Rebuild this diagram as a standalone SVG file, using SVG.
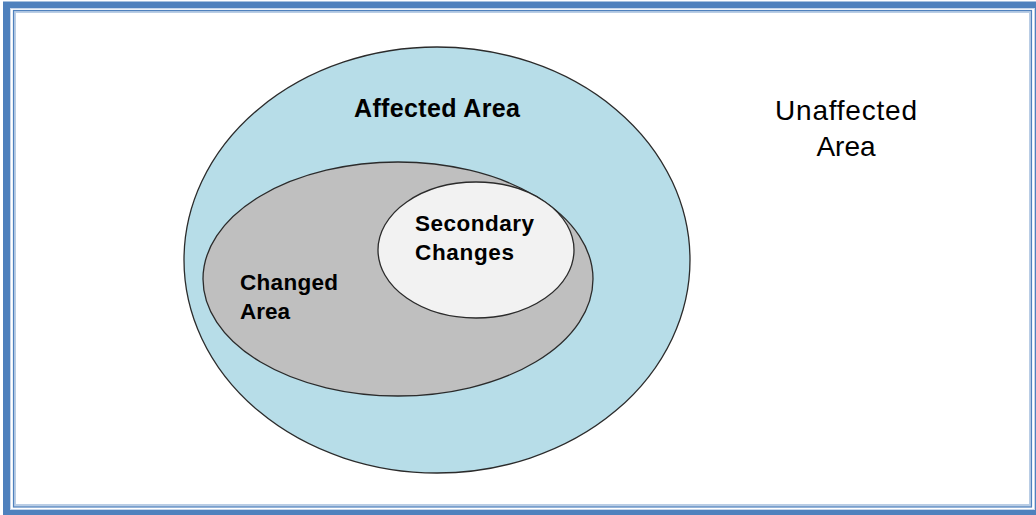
<svg xmlns="http://www.w3.org/2000/svg" width="1036" height="515" viewBox="0 0 1036 515">
<style>
.e{stroke:#2b2b2b;stroke-width:1.3}
.b{font-family:"Liberation Sans",Arial,sans-serif;font-weight:bold;font-size:22.5px;fill:#000}
.big{font-size:25px}
.r{font-family:"Liberation Sans",Arial,sans-serif;font-size:28px;fill:#000}
</style>
<rect x="0" y="0" width="1036" height="515" fill="#fff"/>
<g id="frame" fill="none">
<rect x="6.5" y="5" width="1031" height="508" stroke="#4f81bd" stroke-width="7"/>
<rect x="10.5" y="8.5" width="1024" height="501" stroke="#c5d5ea" stroke-width="1"/>
<rect x="14.5" y="11.5" width="1016" height="494" stroke="#b9cde5" stroke-width="3"/>
<rect x="13.5" y="10.5" width="1018" height="496.5" stroke="#4f81bd" stroke-width="1.2"/>
</g>
<g id="affected">
<ellipse class="e" cx="437" cy="260" rx="253" ry="213" fill="#b7dde8"/>
<text class="b big" x="437" y="117" text-anchor="middle" textLength="166">Affected Area</text>
</g>
<g id="changed">
<ellipse class="e" cx="398" cy="279" rx="195" ry="117" fill="#bfbfbf"/>
<text class="b" x="240" y="290" textLength="98">Changed</text>
<text class="b" x="240" y="319">Area</text>
</g>
<g id="secondary">
<ellipse class="e" cx="476" cy="250" rx="98" ry="68" fill="#f2f2f2"/>
<text class="b" x="415" y="231" textLength="119">Secondary</text>
<text class="b" x="415" y="260" textLength="99">Changes</text>
</g>
<g id="unaffected">
<text class="r" x="846" y="120" text-anchor="middle" textLength="142">Unaffected</text>
<text class="r" x="846" y="156" text-anchor="middle">Area</text>
</g>
<g id="connectors"/>
</svg>
